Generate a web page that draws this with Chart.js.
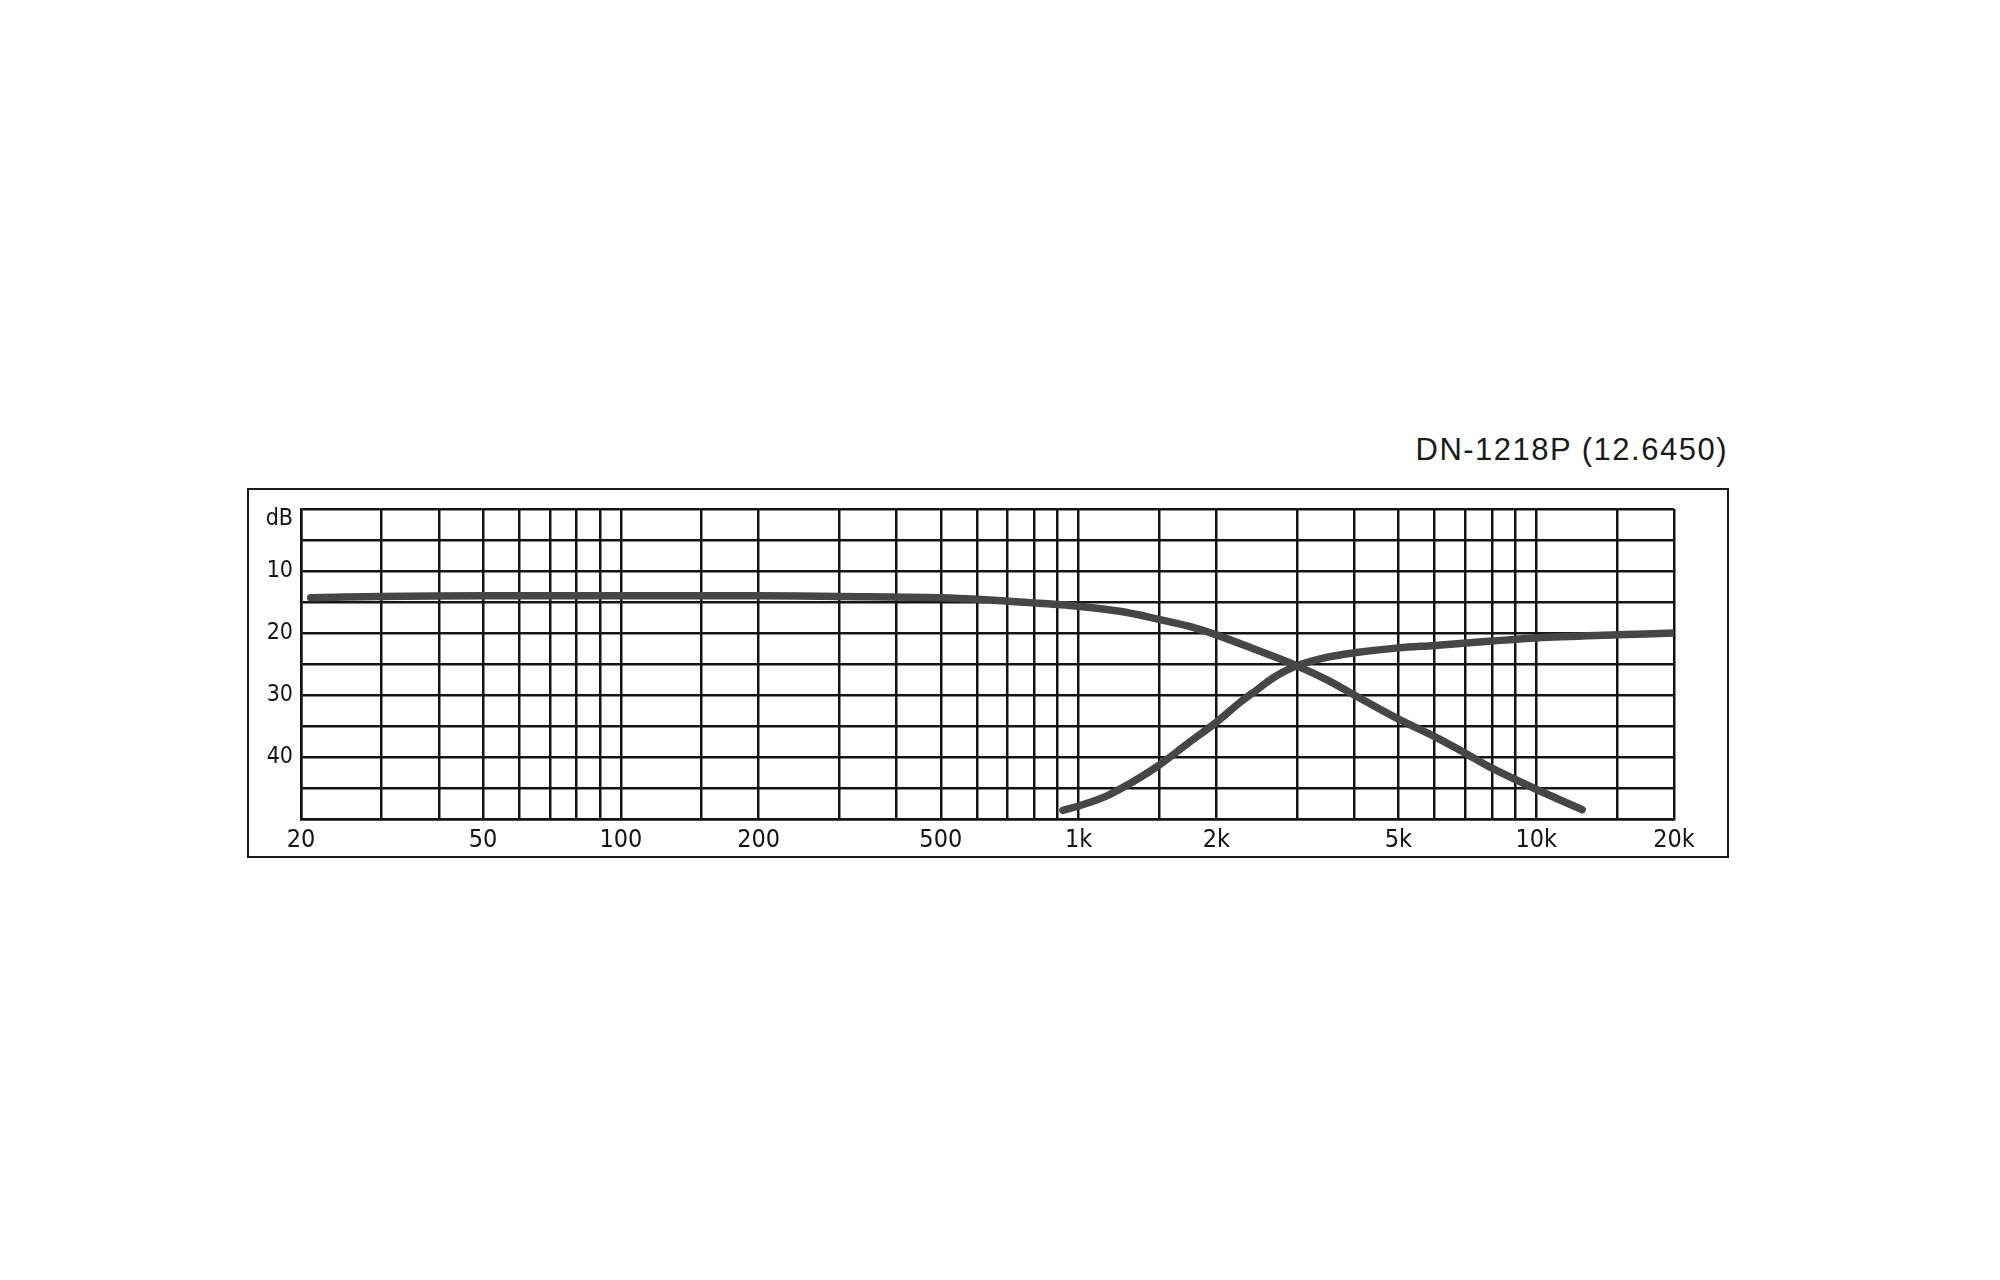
<!DOCTYPE html>
<html><head><meta charset="utf-8">
<script src="https://cdn.jsdelivr.net/npm/chart.js@4.4.1/dist/chart.umd.min.js"></script>
<style>
html,body{margin:0;padding:0;background:#fff;width:2000px;height:1280px;overflow:hidden}
#title{position:absolute;right:272px;top:434px;font:31px/31px 'Liberation Sans',Arial,sans-serif;letter-spacing:1.5px;color:#1a1a1a;white-space:nowrap}
#frame{position:absolute;left:247px;top:488px;width:1482px;height:370px;box-sizing:border-box;border:2px solid #1a1a1a}
#c{position:absolute;left:0;top:0;width:2000px;height:1280px}
</style></head><body>
<div id="frame"></div>
<div id="title"></div>
<canvas id="c" width="2000" height="1280"></canvas>
<script>
const chartTitle = 'DN-1218P (12.6450)';

// x grid (Hz) and labelled ticks
const xGridValues = [20,30,40,50,60,70,80,90,100,150,200,300,400,500,600,700,800,900,1000,1500,2000,3000,4000,5000,6000,7000,8000,9000,10000,15000,20000];
const xLabelValues = [20,50,100,200,500,1000,2000,5000,10000,20000];
const xLabelTexts = ['20','50','100','200','500','1k','2k','5k','10k','20k'];

// y grid and labelled ticks (dB, downward)
const yGridValues = [0,5,10,15,20,25,30,35,40,45,50];
const yLabelValues = [0,10,20,30,40];
const yLabelTexts = ['dB','10','20','30','40'];

// low-pass curve
const lowPassFreq = [21,30,50,100,200,300,500,650,820,1000,1230,1500,1740,2000,2460,3000,3500,4000,5000,6000,7000,8000,10000,12600];
const lowPassDb   = [14.3,14.1,14.0,14.0,14.0,14.1,14.3,14.7,15.2,15.7,16.5,17.8,18.9,20.3,22.8,25.3,27.6,30.0,33.9,36.7,39.4,41.8,45.2,48.5];

// high-pass curve
const highPassFreq = [924,1000,1150,1320,1500,1740,2000,2260,2460,2680,3000,3500,4000,5000,6000,8000,10000,15000,20000];
const highPassDb   = [48.6,47.9,46.3,43.9,41.3,37.7,34.4,31.1,29.1,27.1,25.3,23.9,23.2,22.4,22.0,21.3,20.8,20.3,20.0];

document.getElementById('title').textContent = chartTitle;

const gridColor = '#141414';
const curveColor = '#464646';
const tickFamily = "'DejaVu Sans Condensed','DejaVu Sans',sans-serif";

function toPoints(xs, ys){ return xs.map((x,i)=>({x:x, y:ys[i]})); }

new Chart(document.getElementById('c').getContext('2d'), {
  type: 'line',
  data: {
    datasets: [
      {label:'Low-pass', data: toPoints(lowPassFreq, lowPassDb), borderColor: curveColor, borderWidth: 7.5,
       pointRadius: 0, tension: 0.35, borderCapStyle: 'round', borderJoinStyle: 'round', fill: false},
      {label:'High-pass', data: toPoints(highPassFreq, highPassDb), borderColor: curveColor, borderWidth: 7.5,
       pointRadius: 0, tension: 0.35, borderCapStyle: 'round', borderJoinStyle: 'round', fill: false}
    ]
  },
  options: {
    responsive: false,
    animation: false,
    devicePixelRatio: 1,
    layout: {padding: {left: 247, right: 326, top: 509, bottom: 421}},
    plugins: {legend: {display: false}, tooltip: {enabled: false}, title: {display: false}},
    scales: {
      x: {
        type: 'logarithmic', min: 20, max: 20000,
        afterBuildTicks: s => { s.ticks = xGridValues.map(v => ({value: v})); },
        afterFit: s => { s.height = 40; },
        grid: {color: gridColor, lineWidth: 2.5, drawTicks: false},
        border: {color: gridColor, width: 2.5},
        ticks: {
          autoSkip: false, maxRotation: 0, minRotation: 0, padding: 6, color: '#141414',
          font: {family: tickFamily, size: 25},
          callback: (v) => { const i = xLabelValues.indexOf(Number(v)); return i >= 0 ? xLabelTexts[i] : ''; }
        }
      },
      y: {
        type: 'linear', reverse: true, min: 0, max: 50,
        afterBuildTicks: s => { s.ticks = yGridValues.map(v => ({value: v})); },
        afterFit: s => { s.width = 54; },
        grid: {color: gridColor, lineWidth: 2.5, drawTicks: false},
        border: {color: gridColor, width: 2.5},
        ticks: {
          autoSkip: false, padding: 8, color: '#141414',
          font: {family: tickFamily, size: 23, lineHeight: 0.9},
          callback: (v) => {
            const i = yLabelValues.indexOf(Number(v));
            if (i < 0) return '';
            return i === 0 ? ['', yLabelTexts[0]] : yLabelTexts[i];
          }
        }
      }
    }
  }
});
</script>
</body></html>
